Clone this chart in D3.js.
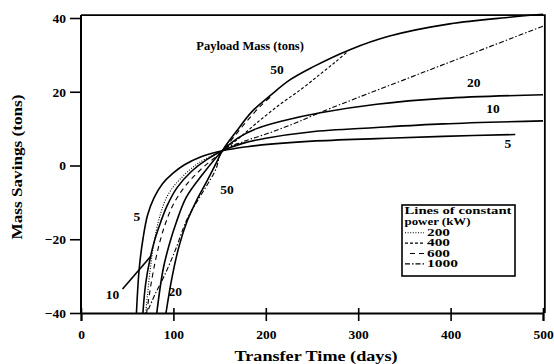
<!DOCTYPE html>
<html>
<head>
<meta charset="utf-8">
<script src="https://cdn.jsdelivr.net/npm/d3@7"></script>
<style>
  body { margin: 0; background: #fff; }
  svg text { font-family: "Liberation Serif", "DejaVu Serif", serif; fill: #000; }
</style>
</head>
<body>
<div id="chart"></div>
<script>
"use strict";

// payload mass curves (tons) : [transfer time (days), mass savings (tons)]
const payload5 = [[60,-40],[63,-28],[67,-20],[72,-13.5],[79,-8.8],[88,-5],[99,-2.2],[112,0.2],[130,2.4],[153,4],[180,5.1],[205,5.8],[250,6.6],[320,7.3],[392,7.9],[470,8.4]];
const payload10 = [[67,-40],[70,-32],[75,-25],[80,-20],[86,-15.5],[93,-11],[104,-6],[120,-1.5],[136,1.6],[153,4],[175,6],[200,7.4],[248,9.1],[320,10.3],[392,11.3],[500,12.1]];
const payload20 = [[82,-40],[89,-28],[96,-21],[103,-15.5],[114,-8.6],[131,-2.6],[153,4],[170,7.5],[190,10],[220,12.2],[259,14.3],[320,16.6],[392,18.2],[500,19.2]];
const payload50 = [[92,-40],[98,-31],[106,-22],[115,-15],[125,-9.5],[136,-4.4],[146,0.5],[153,4],[168,9.2],[185,14.6],[205,19],[226,23.2],[250,26.6],[291,31.4],[334,35.1],[399,38.4],[464,40.2],[500,41]];

// lines of constant power (kW)
const power200 = [[70,-40],[72,-35],[75,-28],[79,-21],[85,-14],[94,-8],[108,-3.5],[128,0.8],[153,4]];
const power400 = [[153,4],[170,7.2],[190,11.5],[215,16.5],[240,21],[260,25],[275,28],[288,30.8]];
const power600 = [[71,-40],[74,-35],[78,-29],[84,-22],[91,-16],[100,-10.5],[113,-5.5],[130,-1],[153,4],[165,7.6],[180,12.2],[195,16.3],[205,18.6]];
const power1000 = [[73,-39],[80,-35],[90,-30],[102,-23],[114,-15],[125,-10],[136,-5.5],[146,-1],[153,4],[175,6.4],[201,8.6],[230,11.3],[260,14.5],[374,25.6],[500,37.8]];

const xTicks = [0, 100, 200, 300, 400, 500];
const yTicks = [-40, -20, 0, 20, 40];
const powerLabels = ["200", "400", "600", "1000"];

const width = 554, height = 364;
const svg = d3.select("#chart").append("svg")
  .attr("width", width)
  .attr("height", height);

const x = d3.scaleLinear().domain([0, 500]).range([81, 543]);
const y = d3.scaleLinear().domain([-40, 40]).range([313, 18]);

const line = d3.line()
  .x(d => x(d[0]))
  .y(d => y(d[1]))
  .curve(d3.curveCatmullRom.alpha(0.5));

// frame (top and right borders)
svg.append("path")
  .attr("d", `M${x(0)},${y(40.8)} H${x(502)} V${y(-40)}`)
  .attr("fill", "none")
  .attr("stroke", "#000")
  .attr("stroke-width", 1.8);

// axes
const xAxis = d3.axisBottom(x).tickValues(xTicks).tickSize(8).tickPadding(8);
const gx = svg.append("g")
  .attr("transform", `translate(0, ${y(-40)})`)
  .call(xAxis);
gx.selectAll(".tick line").attr("y1", -5);
const yAxis = d3.axisLeft(y).tickValues(yTicks).tickSize(11).tickPadding(4);
const gy = svg.append("g")
  .attr("transform", `translate(${x(0)}, 0)`)
  .call(yAxis);
gy.select(".domain").attr("d", `M0,${y(40.8)}V${y(-40)}`);

[gx, gy].forEach(g => {
  g.select(".domain").attr("stroke-width", 2);
  g.selectAll(".tick line").attr("stroke-width", 1.6);
  g.selectAll(".tick text")
    .style("font-family", "Liberation Serif, serif")
    .style("font-size", "13.5px")
    .style("font-weight", "bold");
});

// curves
const payloads = [payload5, payload10, payload20, payload50];
svg.selectAll("path.payload")
  .data(payloads)
  .enter()
  .append("path")
  .attr("class", "payload")
  .attr("d", line)
  .attr("fill", "none")
  .attr("stroke", "#000")
  .attr("stroke-width", 1.6);

const powers = [power200, power400, power600, power1000];
const dashes = ["1,1.6", "3,2", "5,4", "5,2,1.5,2"];
svg.selectAll("path.power")
  .data(powers)
  .enter()
  .append("path")
  .attr("class", "power")
  .attr("d", line)
  .attr("fill", "none")
  .attr("stroke", "#000")
  .attr("stroke-width", 1.1)
  .attr("stroke-dasharray", (d, i) => dashes[i]);

// annotations
const notes = [
  ["Payload Mass (tons)", 183, 32.5],
  ["50", 212, 26],
  ["20", 425, 22.5],
  ["10", 446, 15.5],
  ["5", 462, 6],
  ["50", 158, -6.5],
  ["5", 60.5, -13.8],
  ["10", 34, -35],
  ["20", 102, -34]
];
svg.selectAll("text.note")
  .data(notes)
  .enter()
  .append("text")
  .attr("class", "note")
  .attr("x", d => x(d[1]))
  .attr("y", d => y(d[2]))
  .attr("dy", "0.35em")
  .attr("text-anchor", "middle")
  .style("font-size", d => d[0].length > 3 ? "12.5px" : "13.5px")
  .style("font-weight", "bold")
  .text(d => d[0]);

// leader for the lower "10"
svg.append("line")
  .attr("x1", x(45)).attr("y1", y(-33.5))
  .attr("x2", x(76)).attr("y2", y(-24.5))
  .attr("stroke", "#000")
  .attr("stroke-width", 1.6);

// legend
const legend = svg.append("g").attr("transform", "translate(402, 205)");
legend.append("rect")
  .attr("width", 113)
  .attr("height", 71)
  .attr("fill", "#fff")
  .attr("stroke", "#000")
  .attr("stroke-width", 1.6);
legend.append("text").attr("x", 2.5).attr("y", 6).attr("dy", "0.35em")
  .attr("textLength", 107).attr("lengthAdjust", "spacingAndGlyphs")
  .style("font-size", "9.5px").style("font-weight", "bold").text("Lines of constant");
legend.append("text").attr("x", 2.5).attr("y", 17).attr("dy", "0.35em")
  .attr("textLength", 66).attr("lengthAdjust", "spacingAndGlyphs")
  .style("font-size", "9.5px").style("font-weight", "bold").text("power (kW)");
powerLabels.forEach((lab, i) => {
  const ly = 27.7 + i * 10.4;
  legend.append("line")
    .attr("x1", i === 2 ? 8 : 3).attr("x2", 22)
    .attr("y1", ly).attr("y2", ly)
    .attr("stroke", "#000")
    .attr("stroke-width", 1.1)
    .attr("stroke-dasharray", dashes[i]);
  legend.append("text")
    .attr("x", 25)
    .attr("y", ly)
    .attr("dy", "0.35em")
    .attr("textLength", lab.length === 4 ? 31 : 23)
    .attr("lengthAdjust", "spacingAndGlyphs")
    .style("font-size", "9.5px")
    .style("font-weight", "bold")
    .text(lab);
});

// axis titles
svg.append("text")
  .attr("x", 316)
  .attr("y", 361)
  .attr("text-anchor", "middle")
  .attr("textLength", 163)
  .attr("lengthAdjust", "spacingAndGlyphs")
  .style("font-size", "15.5px")
  .style("font-weight", "bold")
  .text("Transfer Time (days)");
svg.append("text")
  .attr("transform", "translate(22, 167) rotate(-90)")
  .attr("text-anchor", "middle")
  .attr("textLength", 145)
  .attr("lengthAdjust", "spacingAndGlyphs")
  .style("font-size", "15.5px")
  .style("font-weight", "bold")
  .text("Mass Savings (tons)");
</script>
</body>
</html>
